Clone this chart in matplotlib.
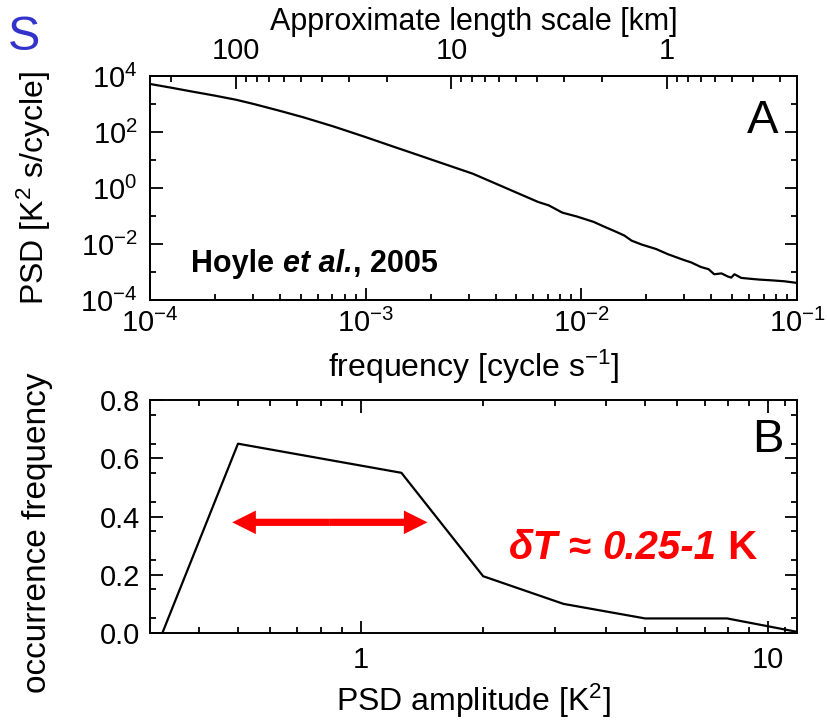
import numpy as np
import matplotlib
matplotlib.use("Agg")
import matplotlib.pyplot as plt
from matplotlib.patches import FancyArrowPatch
from matplotlib.offsetbox import TextArea, HPacker, AnnotationBbox

plt.rcParams['font.family'] = ['Liberation Sans', 'DejaVu Sans']
plt.rcParams['mathtext.fontset'] = 'custom'
plt.rcParams['mathtext.rm'] = 'Liberation Sans'
plt.rcParams['mathtext.it'] = 'Liberation Sans:italic'
plt.rcParams['mathtext.bf'] = 'Liberation Sans:bold'

# Panel A - temperature spectrum (log10 values)
log_freq = [-3.996, -3.90, -3.809, -3.70, -3.60, -3.519, -3.40, -3.291, -3.15,
            -3.001, -2.88, -2.773, -2.64, -2.503, -2.38, -2.254, -2.20, -2.151,
            -2.088, -2.02, -1.943, -1.90, -1.840, -1.80, -1.767, -1.72, -1.653,
            -1.60, -1.529, -1.49, -1.446, -1.41, -1.384, -1.35, -1.321, -1.305,
            -1.290, -1.259, -1.22, -1.176, -1.114, -1.06, -1.000]
log_psd = [3.71, 3.58, 3.45, 3.30, 3.15, 3.00, 2.76, 2.53, 2.20,
           1.82, 1.50, 1.22, 0.87, 0.51, 0.10, -0.32, -0.50, -0.62,
           -0.88, -1.02, -1.21, -1.36, -1.56, -1.70, -1.88, -2.02, -2.18,
           -2.36, -2.56, -2.66, -2.82, -2.90, -3.08, -3.05, -3.16, -3.20,
           -3.08, -3.21, -3.24, -3.27, -3.30, -3.33, -3.39]
wind_km_s = 0.025           # length scale = U / f
freq_ticks = [1e-4, 1e-3, 1e-2, 1e-1]
freq_labels = ['10$^{-4}$', '10$^{-3}$', '10$^{-2}$', '10$^{-1}$']
psd_ticks = [1e4, 1e2, 1e0, 1e-2, 1e-4]
psd_labels = ['10$^{4}$', '10$^{2}$', '10$^{0}$', '10$^{-2}$', '10$^{-4}$']
length_ticks = [100, 10, 1]
length_labels = ['100', '10', '1']

# Panel B - occurrence frequency of PSD amplitude
psd_amp = [0.326, 0.50, 1.26, 2.0, 3.15, 5.0, 7.95, 11.7]
occurrence = [0.0, 0.65, 0.55, 0.195, 0.10, 0.05, 0.05, 0.005]
amp_ticks = [1, 10]
amp_labels = ['1', '10']
occ_ticks = [0.0, 0.2, 0.4, 0.6, 0.8]
occ_labels = ['0.0', '0.2', '0.4', '0.6', '0.8']
arrow_span = [0.484, 1.46]
arrow_level = 0.38


def mixed_text(ax, xy, parts, size, color='black'):
    """place a row of (string, style) pieces on one baseline"""
    boxes = [TextArea(s, textprops=dict(fontsize=size, fontweight='bold',
                                        fontstyle=st, color=color))
             for s, st in parts]
    row = HPacker(children=boxes, align='baseline', pad=0, sep=0)
    ab = AnnotationBbox(row, xy, xycoords='axes fraction', box_alignment=(0, 0),
                        frameon=False, pad=0)
    ax.add_artist(ab)


fig = plt.figure(figsize=(8.28, 7.2), dpi=100)
axA = fig.add_axes([150/828, 1-300/720, 647/828, 224/720])
axB = fig.add_axes([150/828, 1-633/720, 647/828, 233/720])

tick_kw = dict(direction='in', width=1.3, colors='black')

# ---- panel A
freq = 10 ** np.array(log_freq)
psd = 10 ** np.array(log_psd)
axA.plot(freq, psd, color='black', lw=1.6)
axA.set_xscale('log')
axA.set_yscale('log')
axA.set_xlim(1e-4, 1e-1)
axA.set_ylim(1e-4, 1e4)
axA.set_xticks(freq_ticks, freq_labels)
axA.set_xticks([m * 10.0**e for e in range(-4, -1) for m in range(2, 10)], minor=True)
axA.set_yticks(psd_ticks, psd_labels)
axA.set_yticks([1e3, 1e1, 1e-1, 1e-3], minor=True)
axA.yaxis.set_minor_formatter(plt.NullFormatter())
axA.xaxis.set_minor_formatter(plt.NullFormatter())
axA.tick_params(which='major', length=9, labelsize=21, pad=6, right=True, **tick_kw)
axA.tick_params(which='minor', length=4, right=True, **tick_kw)
axA.tick_params(axis='y', which='major', pad=9)
axA.set_xlabel('frequency [cycle s$^{-1}$]', fontsize=23, labelpad=7)
axA.set_ylabel('PSD [K$^{2}$ s/cycle]', fontsize=23)
axA.yaxis.set_label_coords(-0.15, 0.5)
axA.text(0.972, 0.746, 'A', transform=axA.transAxes, fontsize=34, ha='right', va='baseline')
mixed_text(axA, (0.064, 0.092), [('Hoyle ', 'normal'), ('et al.', 'italic'), (', 2005', 'normal')], 22)

top = axA.twiny()
top.set_xscale('log')
top.set_xlim(wind_km_s / 1e-4, wind_km_s / 1e-1)
top.set_xticks(length_ticks, length_labels)
top.set_xticks([m * 10.0**e for e in range(-1, 3) for m in range(2, 10)
                if 0.25 < m * 10.0**e < 250], minor=True)
top.xaxis.set_minor_formatter(plt.NullFormatter())
top.tick_params(which='major', length=9, labelsize=21, pad=8, **tick_kw)
top.tick_params(which='minor', length=4, **tick_kw)
top.set_xlabel('Approximate length scale [km]', fontsize=22, labelpad=5)

# ---- panel B
axB.plot(psd_amp, occurrence, color='black', lw=1.6)
axB.set_xscale('log')
axB.set_xlim(0.304, 11.8)
axB.set_ylim(0.0, 0.8)
axB.set_xticks(amp_ticks, amp_labels)
axB.set_xticks([m * 0.1 for m in range(4, 10)] + list(range(2, 10)) + [11], minor=True)
axB.xaxis.set_minor_formatter(plt.NullFormatter())
axB.set_yticks(occ_ticks, occ_labels)
axB.set_yticks(np.arange(0.05, 0.8, 0.1), minor=True)
axB.tick_params(which='major', length=9, labelsize=21, pad=9, right=True, top=True, **tick_kw)
axB.tick_params(which='minor', length=4, right=True, top=True, **tick_kw)
axB.tick_params(axis='y', which='major', pad=7)
axB.set_xlabel('PSD amplitude [K$^{2}$]', fontsize=23, labelpad=6)
axB.set_ylabel('occurrence frequency', fontsize=24)
axB.yaxis.set_label_coords(-0.15, 0.43)
axB.text(0.98, 0.777, 'B', transform=axB.transAxes, fontsize=34, ha='right', va='baseline')

mid = np.sqrt(arrow_span[0] * arrow_span[1])
for end in arrow_span:
    axB.add_patch(FancyArrowPatch((mid, arrow_level), (end, arrow_level),
                                  arrowstyle='simple,head_length=17,head_width=17,tail_width=5.2',
                                  mutation_scale=1, shrinkA=0, shrinkB=0,
                                  color='#ff0000', lw=0))
mixed_text(axB, (0.555, 0.285), [('\u03b4T', 'italic'), (' \u2248 ', 'normal'),
                                  ('0.25-1', 'italic'), (' K', 'normal')], 29, color='#ff0000')

for ax in (axA, axB, top):
    for s in ax.spines.values():
        s.set_linewidth(1.4)

fig.text(8/828, 1-50/720, 'S', fontsize=35, color='#3333cc', va='baseline')

fig.savefig('out.png', dpi=100)
